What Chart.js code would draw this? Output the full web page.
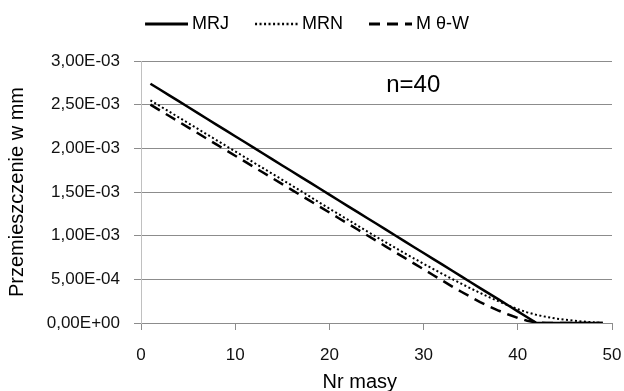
<!DOCTYPE html>
<html>
<head>
<meta charset="utf-8">
<script src="https://cdn.jsdelivr.net/npm/chart.js@4"></script>
<style>
  html, body { margin: 0; padding: 0; background: #fff; }
  #wrap { width: 624px; height: 391px; }
</style>
</head>
<body>
<div id="wrap"><canvas id="chart" width="624" height="391"></canvas></div>
<script>
// mass numbers along the x axis
const masses = [1, 2, 3, 4, 5, 6, 7, 8, 9, 10, 11, 12, 13, 14, 15, 16, 17, 18, 19, 20,
  21, 22, 23, 24, 25, 26, 27, 28, 29, 30, 31, 32, 33, 34, 35, 36, 37, 38, 39, 40,
  41, 42, 43, 44, 45, 46, 47, 48, 49];

// displacement in mm
const mrj = [0.00274, 0.002673, 0.002606, 0.00254, 0.002473, 0.002406, 0.002339, 0.002272, 0.002205, 0.002138,
  0.002072, 0.002005, 0.001938, 0.001871, 0.001804, 0.001737, 0.00167, 0.001604, 0.001537, 0.00147,
  0.001403, 0.001336, 0.001269, 0.001202, 0.001136, 0.001069, 0.001002, 0.000935, 0.000868, 0.000801,
  0.000734, 0.000668, 0.000601, 0.000534, 0.000467, 0.0004, 0.000333, 0.000267, 0.0002, 0.000133,
  0.000066, 0, 0, 0, 0, 0, 0, 0, 0];

const mrn = [0.00255, 0.002485, 0.00242, 0.002355, 0.00229, 0.002225, 0.00216, 0.002095, 0.00203, 0.001965,
  0.0019, 0.001835, 0.00177, 0.001705, 0.00164, 0.001575, 0.00151, 0.001443, 0.001375, 0.00131,
  0.001245, 0.00118, 0.001115, 0.00105, 0.000985, 0.000922, 0.00086, 0.000798, 0.000738, 0.000678,
  0.00062, 0.000562, 0.000506, 0.00045, 0.000396, 0.000344, 0.000294, 0.000246, 0.0002, 0.000158,
  0.000122, 0.000093, 0.00007, 0.000052, 0.000038, 0.000026, 0.000016, 0.000008, 0.000002];

const mtw = [0.0025, 0.002435, 0.00237, 0.002305, 0.00224, 0.002175, 0.00211, 0.002045, 0.00198, 0.001915,
  0.00185, 0.001785, 0.00172, 0.001655, 0.00159, 0.001525, 0.00146, 0.001395, 0.00133, 0.001265,
  0.0012, 0.001135, 0.00107, 0.001005, 0.00094, 0.000875, 0.00081, 0.000745, 0.00068, 0.000615,
  0.00055, 0.000485, 0.00042, 0.000358, 0.000298, 0.00024, 0.000188, 0.00014, 0.000097, 0.000058,
  0.000025, 0.000005, 0, 0, 0, 0, 0, 0, 0];

const seriesNames = ['MRJ', 'MRN', 'M θ-W'];
const xTicks = { min: 0, max: 50, step: 10 };
const yTicks = { min: 0, max: 0.003, step: 0.0005 };
const note = { text: 'n=40', x: 28.9, y: 0.002726 };

const FONT = '"Liberation Sans", Arial, sans-serif';
const GRID = '#8c8c8c';

function points(ys) {
  return masses.map((m, i) => ({ x: m, y: ys[i] }));
}

// little line sample used as legend symbol
function legendLine(dash, width) {
  const c = document.createElement('canvas');
  c.width = 50;
  c.height = 8;
  const g = c.getContext('2d');
  g.strokeStyle = '#000';
  g.lineWidth = width;
  g.setLineDash(dash);
  g.beginPath();
  g.moveTo(7, 4);
  g.lineTo(50, 4);
  g.stroke();
  return c;
}

function sciLabel(v) {
  const [m, e] = Number(v).toExponential(2).split('e');
  const n = parseInt(e, 10);
  return m.replace('.', ',') + 'E' + (n < 0 ? '-' : '+') + String(Math.abs(n)).padStart(2, '0');
}

const notePlugin = {
  id: 'note',
  afterDatasetsDraw(chart) {
    const { ctx, scales } = chart;
    ctx.save();
    ctx.font = '24px ' + FONT;
    ctx.fillStyle = '#000';
    ctx.textAlign = 'center';
    ctx.textBaseline = 'middle';
    ctx.fillText(note.text, scales.x.getPixelForValue(note.x), scales.y.getPixelForValue(note.y));
    ctx.restore();
  }
};

const styles = [
  { dash: [], width: 2.5 },
  { dash: [2, 2.5], width: 2 },
  { dash: [11, 7], width: 2.5 }
];

const chart = new Chart(document.getElementById('chart'), {
  type: 'line',
  data: {
    datasets: [mrj, mrn, mtw].map((ys, i) => ({
      label: seriesNames[i],
      data: points(ys),
      xAxisID: 'x',
      yAxisID: 'y',
      borderColor: '#000',
      backgroundColor: '#000',
      borderWidth: styles[i].width,
      borderDash: styles[i].dash,
      borderCapStyle: 'butt',
      pointRadius: 0,
      pointHoverRadius: 0,
      pointStyle: legendLine(styles[i].dash, styles[i].width + 0.5),
      tension: 0,
      fill: false
    }))
  },
  options: {
    responsive: false,
    animation: false,
    events: [],
    layout: { padding: { top: -9, right: 12, bottom: 0, left: 0 } },
    plugins: {
      tooltip: { enabled: false },
      legend: {
        position: 'top',
        labels: {
          usePointStyle: true,
          pointStyleWidth: 40,
          padding: 24,
          color: '#000',
          font: { family: FONT, size: 18 }
        }
      }
    },
    scales: {
      x: {
        type: 'linear',
        position: 'bottom',
        min: xTicks.min,
        max: xTicks.max,
        afterFit: s => { s.height = 68; },
        grid: { drawOnChartArea: false, drawTicks: true, tickLength: 7, color: GRID },
        border: { color: GRID, width: 1 },
        ticks: {
          stepSize: xTicks.step,
          padding: 2,
          maxRotation: 0,
          color: '#111',
          font: { family: FONT, size: 17, lineHeight: 2.8 }
        },
        title: {
          display: true,
          text: 'Nr masy      ',
          color: '#000',
          font: { family: FONT, size: 20, lineHeight: 1.2 },
          padding: { top: 0, bottom: -3 }
        }
      },
      xTop: {
        type: 'linear',
        position: 'top',
        min: xTicks.min,
        max: xTicks.max,
        afterFit: s => { s.height = 18; },
        grid: { display: false },
        border: { display: false },
        ticks: { display: false }
      },
      y: {
        type: 'linear',
        position: 'left',
        min: yTicks.min,
        max: yTicks.max,
        afterFit: s => { s.width = 141; },
        grid: { color: GRID, lineWidth: 1, tickLength: 7 },
        border: { color: '#c0c0c0', width: 1 },
        ticks: {
          stepSize: yTicks.step,
          padding: 14,
          color: '#111',
          font: { family: FONT, size: 17 },
          callback: v => sciLabel(v)
        },
        title: {
          display: true,
          text: 'Przemieszczenie w mm',
          color: '#000',
          font: { family: FONT, size: 20, lineHeight: 1.2 },
          padding: { top: 5, bottom: 0 }
        }
      }
    }
  },
  plugins: [notePlugin]
});
</script>
</body>
</html>
